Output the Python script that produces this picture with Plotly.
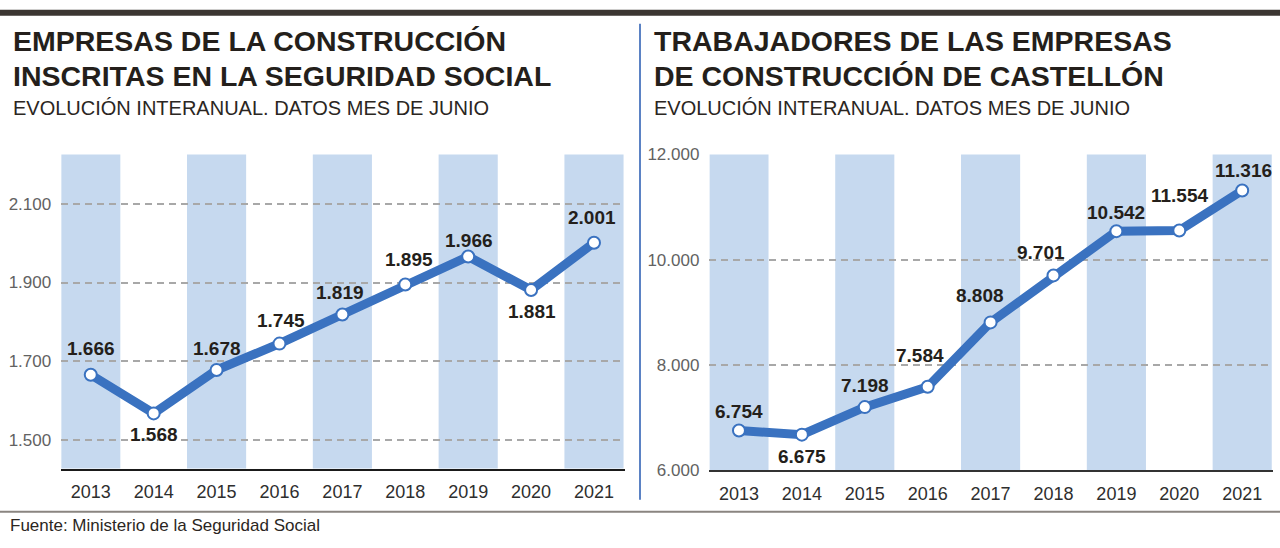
import plotly.graph_objects as go

# ---------------- data ----------------
years = ["2013", "2014", "2015", "2016", "2017", "2018", "2019", "2020", "2021"]

empresas = [1666, 1568, 1678, 1745, 1819, 1895, 1966, 1881, 2001]
empresas_labels = ["1.666", "1.568", "1.678", "1.745", "1.819", "1.895", "1.966", "1.881", "2.001"]

# 2020 point is drawn at ~10.554 level in the original, labelled 11.554
trabajadores = [6754, 6675, 7198, 7584, 8808, 9701, 10542, 10554, 11316]
trabajadores_labels = ["6.754", "6.675", "7.198", "7.584", "8.808", "9.701", "10.542", "11.554", "11.316"]

left_yticks = [1500, 1700, 1900, 2100]
left_yticktext = ["1.500", "1.700", "1.900", "2.100"]
right_yticks = [6000, 8000, 10000, 12000]
right_yticktext = ["6.000", "8.000", "10.000", "12.000"]

left_title = ["EMPRESAS DE LA CONSTRUCCIÓN", "INSCRITAS EN LA SEGURIDAD SOCIAL"]
right_title = ["TRABAJADORES DE LAS EMPRESAS", "DE CONSTRUCCIÓN DE CASTELLÓN"]
subtitle = "EVOLUCIÓN INTERANUAL. DATOS MES DE JUNIO"
source = "Fuente: Ministerio de la Seguridad Social"

# ---------------- styling ----------------
W, H = 1280, 548
BLUE = "#3a72c0"
BAND = "#c6d9ef"
DARK = "#241f1b"
SANS = "Liberation Sans, Arial, Helvetica, sans-serif"

# label offsets (dx, dy) in px relative to the point: dy positive = below
left_offsets = [(0, -25), (0, 20), (0, -21), (2, -22), (-2, -21), (4, -24), (1, -15), (1, 21), (-2, -24)]
right_offsets = [(0, -18), (0, 21), (0, -21), (-8, -30), (-11, -26), (-12, -22), (0, -18), (0, -34), (1, -19)]

VS = 0.965   # vertical compensation
VO = 7.3


def ry(y):
    """target screen y -> layout y"""
    return (y - VO) / VS


def py(y):
    return 1 - ry(y) / H


def px(x):
    return x / W


xs = list(range(len(years)))
XR = [-0.47, 8.485]

fig = go.Figure()

for vals, xa, ya in [(empresas, "x", "y"), (trabajadores, "x2", "y2")]:
    fig.add_trace(go.Scatter(
        x=xs, y=vals, xaxis=xa, yaxis=ya, mode="lines+markers",
        line=dict(color=BLUE, width=9),
        marker=dict(size=12, color="white", line=dict(color=BLUE, width=2)),
        cliponaxis=False, hoverinfo="skip", showlegend=False,
    ))

annotations = []
for vals, labels, offs, xr, yr in [
    (empresas, empresas_labels, left_offsets, "x", "y"),
    (trabajadores, trabajadores_labels, right_offsets, "x2", "y2"),
]:
    for i, (v, t) in enumerate(zip(vals, labels)):
        dx, dy = offs[i]
        annotations.append(dict(
            x=xs[i], y=v, xref=xr, yref=yr, text=t, showarrow=False,
            xshift=dx, yshift=-dy / VS,
            font=dict(family=SANS, size=19, color=DARK, weight=700),
        ))

# titles
for x0, lines in [(11, left_title), (652, right_title)]:
    for ycen, line in zip([39, 74], lines):
        annotations.append(dict(
            x=px(x0), y=py(ycen), xref="paper", yref="paper", text=line,
            showarrow=False, xanchor="left", yanchor="middle",
            font=dict(family=SANS, size=28.5, color=DARK, weight=700),
        ))
    annotations.append(dict(
        x=px(x0), y=py(106.5), xref="paper", yref="paper", text=subtitle,
        showarrow=False, xanchor="left", yanchor="middle",
        font=dict(family=SANS, size=20, color="#2b2622"),
    ))

annotations.append(dict(
    x=px(8), y=py(524), xref="paper", yref="paper", text=source,
    showarrow=False, xanchor="left", yanchor="middle",
    font=dict(family=SANS, size=17, color="#2b2622"),
))

shapes = []
# background bands on alternate years
for xr, yr in [("x", "y domain"), ("x2", "y2 domain")]:
    for i in xs[::2]:
        shapes.append(dict(type="rect", xref=xr, yref=yr, x0=i - 0.47, x1=i + 0.47,
                           y0=0, y1=1, fillcolor=BAND, line=dict(width=0), layer="below"))
# top dark bar
shapes.append(dict(type="rect", xref="paper", yref="paper", x0=0, x1=1,
                   y0=py(14), y1=py(8), fillcolor="#3b3632", line=dict(width=0)))
# vertical divider
shapes.append(dict(type="line", xref="paper", yref="paper", x0=px(640), x1=px(640),
                   y0=py(22), y1=py(498), line=dict(color="#5b82c4", width=2)))
# bottom rule
shapes.append(dict(type="line", xref="paper", yref="paper", x0=0, x1=1,
                   y0=py(510), y1=py(510), line=dict(color="#8a8580", width=2)))

xaxis_common = dict(
    range=XR, tickmode="array", tickvals=xs, ticktext=years,
    showgrid=False, zeroline=False, showline=True, linewidth=2,
    ticks="", ticklabelstandoff=6,
    tickfont=dict(family=SANS, size=18, color="#2e2e2e"),
    fixedrange=True,
)
yaxis_common = dict(
    showgrid=True, gridcolor="#a8a8a8", gridwidth=1.5, griddash="7px,5px",
    zeroline=False, showline=False, ticks="", ticklabelstandoff=9,
    tickfont=dict(family=SANS, size=17, color="#626262"),
    fixedrange=True,
)

fig.update_layout(
    width=W, height=H,
    margin=dict(l=0, r=0, t=0, b=0),
    paper_bgcolor="white", plot_bgcolor="white",
    xaxis=dict(domain=[px(61.2), px(624.5)], anchor="y", linecolor="#1a1a1a", **xaxis_common),
    yaxis=dict(domain=[py(466.7), py(152.7)], anchor="x", range=[1428, 2225],
               tickvals=left_yticks, ticktext=left_yticktext, **yaxis_common),
    xaxis2=dict(domain=[px(709.4), px(1272.7)], anchor="y2", linecolor="#333333", **xaxis_common),
    yaxis2=dict(domain=[py(468.3), py(152.7)], anchor="x2", range=[6000, 12000],
                tickvals=right_yticks, ticktext=right_yticktext, **yaxis_common),
    annotations=annotations,
    shapes=shapes,
    showlegend=False,
)

fig.write_html(
    "out.html",
    config={"displayModeBar": False},
    post_script="document.body.style.margin='0';document.body.style.overflow='hidden';",
)
